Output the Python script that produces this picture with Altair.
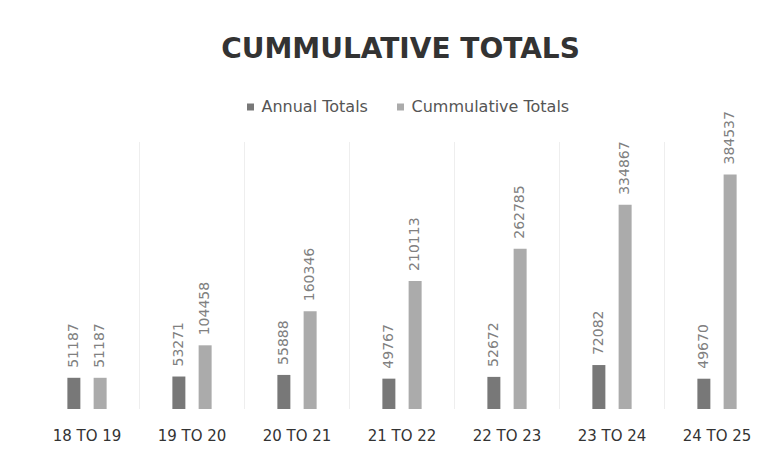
import altair as alt
import pandas as pd

categories = ["18 TO 19", "19 TO 20", "20 TO 21", "21 TO 22", "22 TO 23", "23 TO 24", "24 TO 25"]
series_names = ["Annual Totals", "Cummulative Totals"]
annual_totals = [51187, 53271, 55888, 49767, 52672, 72082, 49670]
cummulative_totals = [51187, 104458, 160346, 210113, 262785, 334867, 384537]
separator_positions = [1, 2, 3, 4, 5, 6]

rows = []
for c, a, t in zip(categories, annual_totals, cummulative_totals):
    rows.append({"category": c, "series": series_names[0], "value": a})
    rows.append({"category": c, "series": series_names[1], "value": t})
df = pd.DataFrame(rows)
sep_df = pd.DataFrame({"pos": separator_positions})

FONT = "DejaVu Sans"

x_enc = alt.X(
    "category:N",
    sort=categories,
    scale=alt.Scale(range=[0, 735], paddingInner=0, paddingOuter=0),
    axis=alt.Axis(
        title=None, labelAngle=0, labelFont=FONT, labelFontSize=15,
        labelColor="#333333", ticks=False, domain=False, grid=False,
        labelPadding=19,
    ),
)
xoff_enc = alt.XOffset(
    "series:N", sort=series_names,
    scale=alt.Scale(paddingInner=0, paddingOuter=1),
)
y_enc = alt.Y(
    "value:Q",
    scale=alt.Scale(domain=[0, 549400], nice=False, zero=True),
    axis=None,
)
color_enc = alt.Color(
    "series:N",
    sort=series_names,
    scale=alt.Scale(domain=series_names, range=["#787878", "#ababab"]),
    legend=alt.Legend(
        orient="none", legendX=208, legendY=25, direction="horizontal",
        title=None, symbolType="square", symbolSize=49, symbolStrokeWidth=0,
        labelFont=FONT, labelFontSize=16, labelColor="#555555",
        columnPadding=24, labelOffset=3,
    ),
)

seps = alt.Chart(sep_df).mark_rule(color="#eeeeee", strokeWidth=1).encode(
    x=alt.X("pos:Q", scale=alt.Scale(domain=[0, 7], range=[0, 735]), axis=None),
    y=alt.value(68),
    y2=alt.value(335),
)

bars = alt.Chart(df).mark_bar(width=13).encode(
    x=x_enc, xOffset=xoff_enc, y=y_enc, color=color_enc,
)

labels = alt.Chart(df).mark_text(
    angle=270, align="left", baseline="middle", dx=10,
    font=FONT, fontSize=14, color="#808080",
).encode(
    x=alt.X("category:N", sort=categories),
    xOffset=alt.XOffset("series:N", sort=series_names),
    y="value:Q",
    text=alt.Text("value:Q", format="d"),
)

main = alt.layer(bars, labels)

chart = alt.layer(seps, main).resolve_scale(x="independent").properties(
    width=700,
    height=335,
    background="white",
    title=alt.Title(
        "CUMMULATIVE TOTALS", font=FONT, fontSize=28, fontWeight="bold",
        color="#333333", anchor="middle", offset=10, dx=16,
    ),
    autosize=alt.AutoSizeParams(type="none"),
    padding={"left": 26.5, "top": 66, "right": 16, "bottom": 36},
).configure_view(stroke="transparent", strokeWidth=0)

chart.save("out.html", embed_options={"renderer": "svg", "actions": False})
